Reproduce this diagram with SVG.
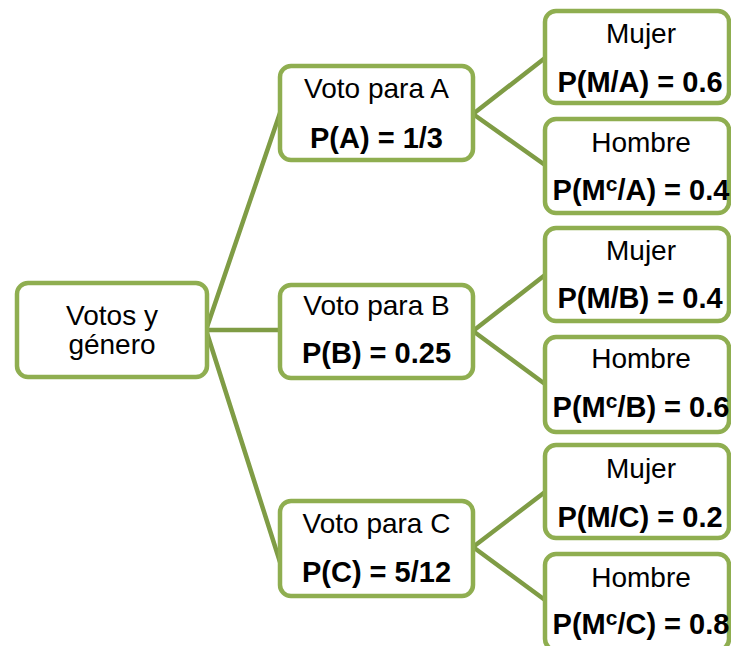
<svg xmlns="http://www.w3.org/2000/svg" width="731" height="646" viewBox="0 0 731 646">
<style>
.box{fill:#fff;stroke:#8fae50;stroke-width:4.5}
.con{stroke:#7f9c45;stroke-width:4.5;fill:none;stroke-linecap:round}
text{font-family:"Liberation Sans",Arial,sans-serif;font-size:28px;fill:#000;text-anchor:middle}
.b{font-weight:bold;font-size:29px}
.sup{font-size:21px}
</style>
<rect width="731" height="646" fill="#fff"/>
<g id="connectors">
<line class="con" x1="206" y1="330" x2="280" y2="113"/>
<line class="con" x1="206" y1="330" x2="280" y2="330"/>
<line class="con" x1="206" y1="330" x2="280" y2="562"/>
<line class="con" x1="473" y1="114" x2="545" y2="58"/>
<line class="con" x1="473" y1="114" x2="545" y2="165"/>
<line class="con" x1="473" y1="331" x2="545" y2="275"/>
<line class="con" x1="473" y1="331" x2="545" y2="384"/>
<line class="con" x1="473" y1="547" x2="545" y2="492"/>
<line class="con" x1="473" y1="547" x2="545" y2="600"/>
</g>
<g id="root">
<rect class="box" x="17" y="283" width="190" height="94" rx="11"/>
<text x="112" y="325">Votos y</text>
<text x="112" y="354">género</text>
</g>
<g id="nodeA">
<rect class="box" x="280" y="66" width="193" height="94" rx="11"/>
<text x="376.5" y="98">Voto para A</text>
<text class="b" x="376.5" y="148">P(A) = 1/3</text>
</g>
<g id="nodeB">
<rect class="box" x="280" y="285" width="193" height="93" rx="11"/>
<text x="376.5" y="315">Voto para B</text>
<text class="b" x="376.5" y="363">P(B) = 0.25</text>
</g>
<g id="nodeC">
<rect class="box" x="280" y="501" width="193" height="95" rx="11"/>
<text x="376.5" y="533">Voto para C</text>
<text class="b" x="376.5" y="582">P(C) = 5/12</text>
</g>
<g id="mujerA">
<rect class="box" x="545" y="11" width="184" height="92" rx="11"/>
<text x="641" y="43">Mujer</text>
<text class="b" x="640" y="92">P(M/A) = 0.6</text>
</g>
<g id="hombreA">
<rect class="box" x="545" y="119" width="184" height="94" rx="11"/>
<text x="641" y="152">Hombre</text>
<text class="b" x="641" y="200">P(M<tspan class="sup" dy="-9">c</tspan><tspan dy="9">/A) = 0.4</tspan></text>
</g>
<g id="mujerB">
<rect class="box" x="545" y="228" width="184" height="93" rx="11"/>
<text x="641" y="260">Mujer</text>
<text class="b" x="640" y="308">P(M/B) = 0.4</text>
</g>
<g id="hombreB">
<rect class="box" x="545" y="337" width="184" height="95" rx="11"/>
<text x="641" y="368">Hombre</text>
<text class="b" x="641" y="417">P(M<tspan class="sup" dy="-9">c</tspan><tspan dy="9">/B) = 0.6</tspan></text>
</g>
<g id="mujerC">
<rect class="box" x="545" y="445" width="184" height="93" rx="11"/>
<text x="641" y="478">Mujer</text>
<text class="b" x="640" y="527">P(M/C) = 0.2</text>
</g>
<g id="hombreC">
<rect class="box" x="545" y="554" width="184" height="96" rx="11"/>
<text x="641" y="587">Hombre</text>
<text class="b" x="641" y="634">P(M<tspan class="sup" dy="-9">c</tspan><tspan dy="9">/C) = 0.8</tspan></text>
</g>
</svg>
